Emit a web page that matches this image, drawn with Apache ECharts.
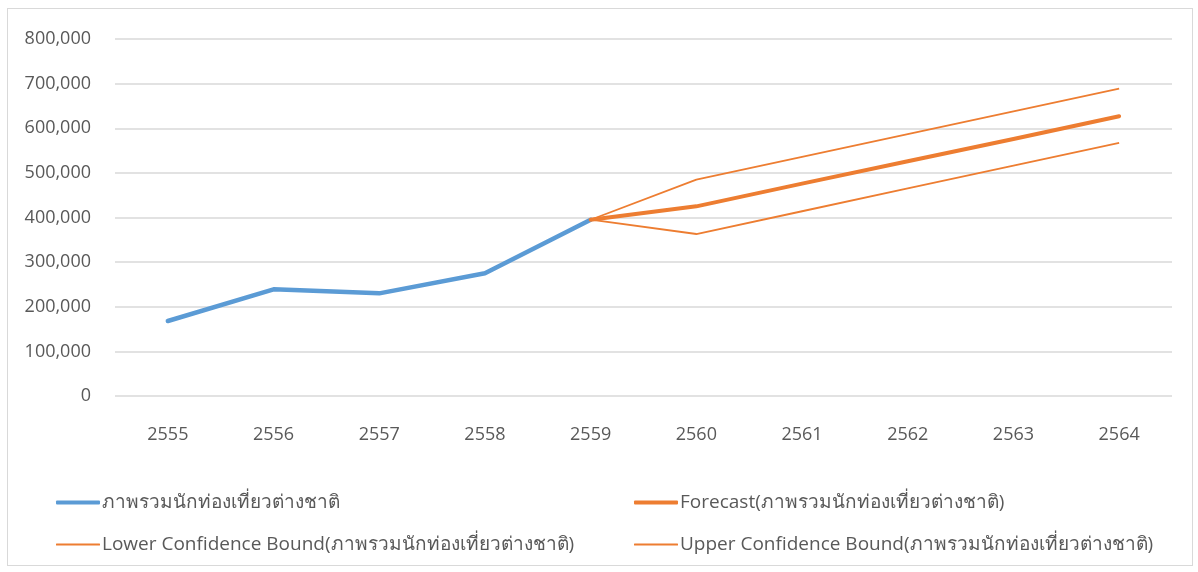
<!DOCTYPE html>
<html>
<head>
<meta charset="utf-8">
<script src="https://cdn.jsdelivr.net/npm/echarts@6/dist/echarts.min.js"></script>
<style>
html,body{margin:0;padding:0;background:#fff;}
#frame{position:absolute;left:7px;top:8px;width:1186px;height:558px;border:1.5px solid #d9d9d9;box-sizing:border-box;}
#chart{position:absolute;left:0;top:0;width:1198px;height:572px;}
</style>
</head>
<body>
<div id="frame"></div>
<div id="chart"></div>
<script>
const years = ['2555','2556','2557','2558','2559','2560','2561','2562','2563','2564'];
const nameActual = 'ภาพรวมนักท่องเที่ยวต่างชาติ';
const nameForecast = 'Forecast(ภาพรวมนักท่องเที่ยวต่างชาติ)';
const nameLower = 'Lower Confidence Bound(ภาพรวมนักท่องเที่ยวต่างชาติ)';
const nameUpper = 'Upper Confidence Bound(ภาพรวมนักท่องเที่ยวต่างชาติ)';
const actual   = [168000, 239000, 230000, 275000, 395000, null, null, null, null, null];
const forecast = [null, null, null, null, 395000, 425000, 476000, 526000, 576000, 627000];
const lower    = [null, null, null, null, 395000, 363000, 414000, 465000, 516000, 567000];
const upper    = [null, null, null, null, 395000, 485000, 536000, 587000, 638000, 689000];

const BLUE = '#5b9bd5', ORANGE = '#ed7d31', TXT = '#595959';
const FONT = '"Open Sans","Noto Sans",sans-serif';

const chart = echarts.init(document.getElementById('chart'));
function lg(name, left, top, h) {
  return {
    data: [name], left: left, top: top, itemWidth: 44, itemHeight: h, itemGap: 0,
    icon: 'roundRect', padding: 0,
    textStyle: {color: TXT, fontSize: 19, fontFamily: FONT, padding: [0,0,0,-3]},
    selectedMode: false
  };
}
chart.setOption({
  animation: false,
  textStyle: {fontFamily: FONT},
  grid: {left: 115, right: 26, top: 39, bottom: 176, containLabel: false},
  legend: [
    lg(nameActual, 56, 493, 4),
    lg(nameForecast, 634, 493, 4),
    lg(nameLower, 56, 535, 2),
    lg(nameUpper, 634, 535, 2)
  ],
  xAxis: {
    type: 'category', data: years, boundaryGap: true,
    axisLine: {show: false}, axisTick: {show: false},
    axisLabel: {color: TXT, fontSize: 18, margin: 30, fontFamily: FONT}
  },
  yAxis: {
    type: 'value', min: 0, max: 800000, interval: 100000,
    axisLine: {show: false}, axisTick: {show: false},
    splitLine: {lineStyle: {color: '#d9d9d9', width: 1.5}},
    axisLabel: {color: TXT, fontSize: 18, margin: 24, fontFamily: FONT,
      formatter: v => v.toLocaleString('en-US')}
  },
  series: [
    {name: nameActual, type: 'line', data: actual, symbol: 'none', itemStyle: {color: BLUE},
     lineStyle: {color: BLUE, width: 4.5, cap: 'round', join: 'round'}, z: 3},
    {name: nameForecast, type: 'line', data: forecast, symbol: 'none', itemStyle: {color: ORANGE},
     lineStyle: {color: ORANGE, width: 4, cap: 'round', join: 'round'}, z: 4},
    {name: nameLower, type: 'line', data: lower, symbol: 'none', itemStyle: {color: ORANGE},
     lineStyle: {color: ORANGE, width: 1.8}, z: 2},
    {name: nameUpper, type: 'line', data: upper, symbol: 'none', itemStyle: {color: ORANGE},
     lineStyle: {color: ORANGE, width: 1.8}, z: 2}
  ]
});
</script>
</body>
</html>
